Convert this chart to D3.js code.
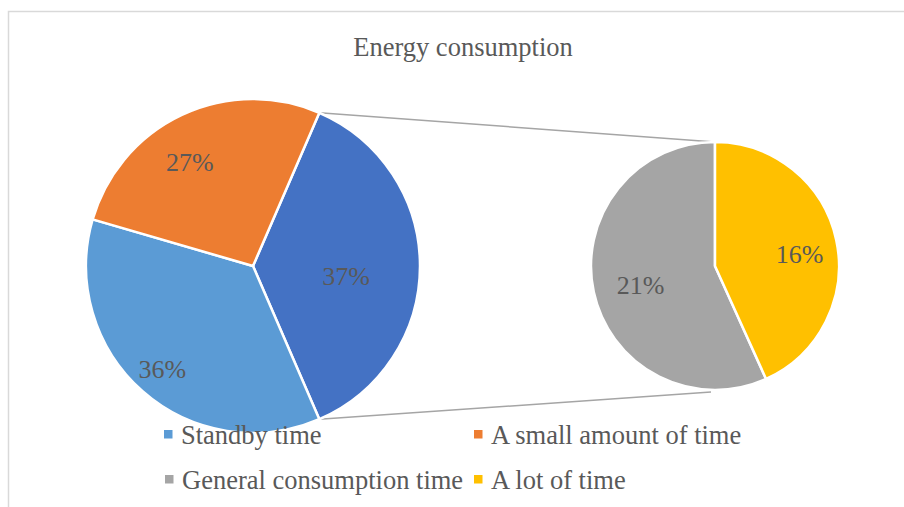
<!DOCTYPE html>
<html>
<head>
<meta charset="utf-8">
<script src="https://cdn.jsdelivr.net/npm/d3@7"></script>
<style>
  html, body { margin: 0; padding: 0; background: #fff; }
  svg { display: block; }
</style>
</head>
<body>
<svg id="chart" width="904" height="507"></svg>
<script>
// Share of energy consumption by usage category (percent)
const categories = ["Standby time", "A small amount of time", "General consumption time", "A lot of time"];
const values = [36, 27, 21, 16];
const colors = ["#5B9BD5", "#ED7D31", "#A5A5A5", "#FFC000"];

// The last two categories are split off into the secondary pie
const secondaryCount = 2;
const otherColor = "#4472C4";

const svg = d3.select("#chart");
const W = 904, H = 507;
const textColor = "#595959";
const serif = "'Liberation Serif', 'Times New Roman', serif";

// chart area frame (only top and left edges fall inside the view)
svg.append("path")
  .attr("d", `M8.5,${H} V11.5 H${W}`)
  .attr("fill", "none")
  .attr("stroke", "#d9d9d9")
  .attr("stroke-width", 1.5);

// title
svg.append("text")
  .attr("x", 463).attr("y", 56)
  .attr("text-anchor", "middle")
  .attr("font-family", serif)
  .attr("font-size", 26.5)
  .attr("fill", textColor)
  .text("Energy consumption");

const total = d3.sum(values);
const primaryItems = categories.slice(0, categories.length - secondaryCount)
  .map((c, i) => ({ name: c, value: values[i], color: colors[i] }));
const secondaryItems = categories.slice(categories.length - secondaryCount)
  .map((c, i) => {
    const k = categories.length - secondaryCount + i;
    return { name: c, value: values[k], color: colors[k] };
  });
const otherValue = d3.sum(secondaryItems, d => d.value);

// main pie: the "other" slice is centred on the right-hand side
const main = { cx: 253, cy: 266, r: 167 };
const mainData = [{ name: "Other", value: otherValue, color: otherColor }].concat(primaryItems);
const otherSpan = otherValue / total * 2 * Math.PI;
const mainPie = d3.pie().sort(null).value(d => d.value)
  .startAngle(Math.PI / 2 - otherSpan / 2)
  .endAngle(Math.PI / 2 - otherSpan / 2 + 2 * Math.PI);
const mainArcs = mainPie(mainData);

// secondary pie: the last category starts at 12 o'clock
const sec = { cx: 715, cy: 266, r: 124 };
const secTotal = otherValue;
const firstSpan = secondaryItems[0].value / secTotal * 2 * Math.PI;
const secPie = d3.pie().sort(null).value(d => d.value)
  .startAngle(-firstSpan)
  .endAngle(-firstSpan + 2 * Math.PI);
const secArcs = secPie(secondaryItems);

// connector lines from the edges of the "other" slice to the secondary pie
const otherArc = mainArcs[0];
const pt = (c, a, r) => [c.cx + r * Math.sin(a), c.cy - r * Math.cos(a)];
const [tx, ty] = pt(main, otherArc.startAngle, main.r);
const [bx, by] = pt(main, otherArc.endAngle, main.r);
svg.append("g").attr("stroke", "#a5a5a5").attr("stroke-width", 1.5).attr("fill", "none")
  .selectAll("line")
  .data([[tx, ty, sec.cx, sec.cy - sec.r], [bx, by, sec.cx - 4, sec.cy + sec.r + 2]])
  .join("line")
  .attr("x1", d => d[0]).attr("y1", d => d[1])
  .attr("x2", d => d[2]).attr("y2", d => d[3]);

function drawPie(center, arcs, labelPlace) {
  const g = svg.append("g").attr("transform", `translate(${center.cx},${center.cy})`);
  const arc = d3.arc().innerRadius(0).outerRadius(center.r);
  g.selectAll("path").data(arcs).join("path")
    .attr("d", arc)
    .attr("fill", d => d.data.color)
    .attr("stroke", "#fff")
    .attr("stroke-width", 2.5)
    .attr("stroke-linejoin", "round");
  g.selectAll("text").data(arcs).join("text")
    .attr("transform", (d, i) => {
      const [f, shift] = labelPlace[i];
      const a = (d.startAngle + d.endAngle) / 2 + shift * Math.PI / 180;
      const rr = f * center.r;
      return `translate(${rr * Math.sin(a)},${-rr * Math.cos(a)})`;
    })
    .attr("text-anchor", "middle")
    .attr("dy", "0.35em")
    .attr("font-family", serif)
    .attr("font-size", 26)
    .attr("fill", textColor)
    .text(d => Math.round(d.data.value / total * 100) + "%");
}

// label placement per slice: [fraction of radius, angular shift in degrees]
drawPie(main, mainArcs, [[0.56, 6], [0.82, 0], [0.73, -6]]);
drawPie(sec, secArcs, [[0.62, -2], [0.69, 3.7]]);

// legend
const legendPos = [[164, 439], [474, 439], [165, 484], [474, 484]];
const lg = svg.append("g").selectAll("g").data(categories).join("g")
  .attr("transform", (d, i) => `translate(${legendPos[i][0]},${legendPos[i][1]})`);
lg.append("rect")
  .attr("x", 0).attr("y", -9).attr("width", 8.5).attr("height", 8.5)
  .attr("fill", (d, i) => colors[i]);
lg.append("text")
  .attr("x", 17).attr("y", 4.5)
  .attr("font-family", serif)
  .attr("font-size", 26.5)
  .attr("fill", textColor)
  .text(d => d);
</script>
</body>
</html>
